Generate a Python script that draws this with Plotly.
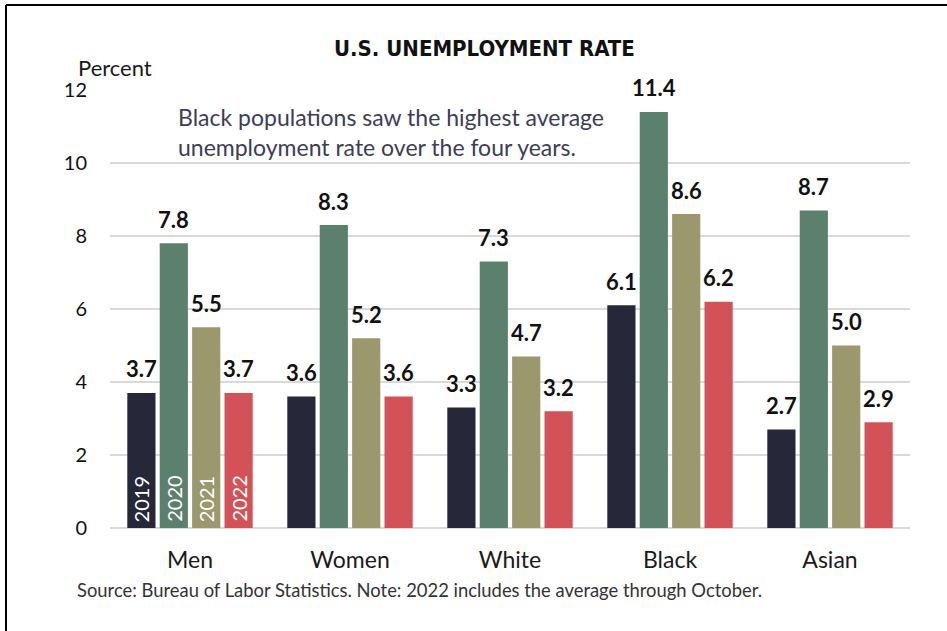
import plotly.graph_objects as go

categories = ["Men", "Women", "White", "Black", "Asian"]
years = ["2019", "2020", "2021", "2022"]
values_2019 = [3.7, 3.6, 3.3, 6.1, 2.7]
values_2020 = [7.8, 8.3, 7.3, 11.4, 8.7]
values_2021 = [5.5, 5.2, 4.7, 8.6, 5.0]
values_2022 = [3.7, 3.6, 3.2, 6.2, 2.9]
series = [values_2019, values_2020, values_2021, values_2022]
colors = ["#262739", "#5c806e", "#9a986c", "#d35257"]
y_ticks = [0, 2, 4, 6, 8, 10, 12]

W, H = 947, 631
L, R, T, B = 110, 37, 90, 103
PW, PH = W - L - R, H - T - B

def px(x):
    return (x - L) / PW

def py(y):
    return (H - B - y) / PH

FONT = "Lato, 'Open Sans', sans-serif"

fig = go.Figure()
for yr, vals, col in zip(years, series, colors):
    fig.add_trace(go.Bar(
        x=categories, y=vals, name=yr, marker_color=col,
        marker_line_width=0, cliponaxis=False, hoverinfo="skip",
    ))

bargap = 0.19
slot = (1 - bargap) / 4 * (PW / len(categories))
annotations = []
for i, (yr, vals) in enumerate(zip(years, series)):
    off = (i - 1.5) * slot
    annotations.append(dict(
        x=categories[0], y=0, xref="x", yref="y", text=yr, showarrow=False,
        textangle=-90, yanchor="bottom", xanchor="center",
        xshift=off, yshift=4,
        font=dict(family=FONT, size=20, color="white"),
    ))
    for cat, v in zip(categories, vals):
        annotations.append(dict(
            x=cat, y=v, xref="x", yref="y", text=f"{v:.1f}", showarrow=False,
            xanchor="center", yanchor="middle", xshift=off, yshift=24,
            font=dict(family=FONT, size=22, color="#111", weight="bold"),
        ))

annotations += [
    dict(x=px(484), y=py(49), xref="paper", yref="paper", text="<b>U.S. UNEMPLOYMENT RATE</b>",
         showarrow=False, xanchor="center", yanchor="middle",
         font=dict(family="'Liberation Sans Narrow', 'DejaVu Sans Condensed', sans-serif", size=22, color="#111")),
    dict(x=px(76), y=py(67), xref="paper", yref="paper", text="Percent",
         showarrow=False, xanchor="left", yanchor="middle",
         font=dict(family=FONT, size=22, color="#1a1a1a")),
    dict(x=px(176), y=py(132), xref="paper", yref="paper",
         text="Black populations saw the highest average<br>unemployment rate over the four years.",
         showarrow=False, xanchor="left", yanchor="middle", align="left",
         font=dict(family=FONT, size=23, color="#3d3d55")),
    dict(x=px(75), y=py(590), xref="paper", yref="paper",
         text="Source: Bureau of Labor Statistics. Note: 2022 includes the average through October.",
         showarrow=False, xanchor="left", yanchor="middle",
         font=dict(family=FONT, size=18.4, color="#333")),
]

shapes = [
    dict(type="line", xref="paper", yref="paper", x0=px(6), x1=px(6), y0=py(H), y1=py(5),
         line=dict(color="black", width=2)),
    dict(type="line", xref="paper", yref="paper", x0=px(6), x1=px(W), y0=py(5), y1=py(5),
         line=dict(color="black", width=2)),
]

fig.update_layout(
    width=W, height=H, margin=dict(l=L, r=R, t=T, b=B),
    paper_bgcolor="white", plot_bgcolor="white",
    barmode="group", bargap=bargap, bargroupgap=0.13,
    showlegend=False, hovermode=False,
    font=dict(family=FONT, color="#1a1a1a"),
    xaxis=dict(showgrid=False, showline=False, ticks="", ticklabelstandoff=16,
               tickfont=dict(family=FONT, size=23, color="#1a1a1a")),
    yaxis=dict(range=[0, 12], tickvals=y_ticks, showgrid=True, gridcolor="#d9d9d9", gridwidth=2,
               zeroline=True, zerolinecolor="#d9d9d9", zerolinewidth=2, showline=False,
               ticks="", ticklabelstandoff=22,
               tickfont=dict(family=FONT, size=20, color="#111")),
    annotations=annotations, shapes=shapes,
)

fig.write_html("out.html", config={"displayModeBar": False},
               post_script="document.body.style.margin='0';document.body.style.padding='0';"
                           "document.body.style.overflow='hidden';"
                           "document.documentElement.style.overflow='hidden';")
